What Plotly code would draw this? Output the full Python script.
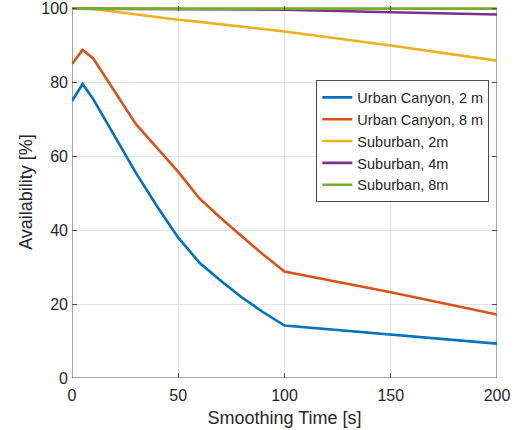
import plotly.graph_objects as go

x_uc2 = [0, 5, 10, 20, 30, 40, 50, 60, 70, 80, 90, 100, 150, 200]
y_uc2 = [75, 79.6, 75.5, 65.5, 55.6, 46.5, 38, 31.2, 26.3, 21.8, 17.8, 14.2, 11.8, 9.3]
x_uc8 = [0, 5, 10, 20, 30, 40, 50, 60, 70, 80, 90, 100, 150, 200]
y_uc8 = [85, 88.8, 86.5, 77.5, 68.8, 62.3, 55.8, 48.6, 43.3, 38.3, 33.4, 28.8, 23.2, 17.2]
x_su2 = [0, 10, 50, 60, 100, 150, 200]
y_su2 = [100, 99.9, 97.0, 96.4, 93.8, 90.0, 85.9]
x_su4 = [0, 40, 80, 100, 150, 200]
y_su4 = [100, 99.9, 99.9, 99.7, 99.0, 98.4]
x_su8 = [0, 200]
y_su8 = [100, 100]

names = ["Urban Canyon, 2 m", "Urban Canyon, 8 m", "Suburban, 2m", "Suburban, 4m", "Suburban, 8m"]
colors = ["#0072BD", "#D95319", "#EDB120", "#7E2F8E", "#77AC30"]
series = [(x_uc2, y_uc2), (x_uc8, y_uc8), (x_su2, y_su2), (x_su4, y_su4), (x_su8, y_su8)]

fig = go.Figure()
for (xs, ys), n, c in zip(series, names, colors):
    fig.add_trace(go.Scatter(x=xs, y=ys, mode="lines", name=n,
                             line=dict(color=c, width=2.6)))

Y_TOP = 100.7  # small headroom so the 100 % line is not clipped
plot_bottom = 378
px_per_unit = (378 - 9) / 100.0
top_margin = 9 - (Y_TOP - 100) * px_per_unit

axis_common = dict(showgrid=True, gridcolor="#e3e3e3", gridwidth=1,
                   showline=False, mirror="ticks",
                   ticks="inside", ticklen=5, tickcolor="#4d4d4d",
                   tickfont=dict(size=16, color="#262626"), zeroline=False,
                   automargin=False, ticklabeloverflow="allow")

fig.update_layout(
    width=516, height=430,
    margin=dict(l=72, r=19, t=top_margin, b=430 - plot_bottom),
    plot_bgcolor="white", paper_bgcolor="white",
    font=dict(family="Liberation Sans, Arial", color="#262626"),
    xaxis=dict(range=[0, 200], tickvals=[0, 50, 100, 150, 200],
               ticklabelstandoff=6,
               title=dict(text="Smoothing Time [s]", font=dict(size=18), standoff=8),
               **axis_common),
    yaxis=dict(range=[0, Y_TOP], tickvals=[0, 20, 40, 60, 80, 100],
               ticklabelstandoff=3,
               title=dict(text="Availability [%]", font=dict(size=18), standoff=3),
               **axis_common),
    legend=dict(x=0.982, y=0.8, xanchor="right", yanchor="top",
                bgcolor="white", bordercolor="#4d4d4d", borderwidth=1,
                font=dict(size=14.5, color="#262626"), tracegroupgap=0,
                itemwidth=30),
    showlegend=True,
    shapes=[dict(type="rect", xref="x", yref="y", x0=0, x1=200, y0=0, y1=100,
                 line=dict(color="#4d4d4d", width=1), layer="below")],
)

fig.write_html("out.html")
